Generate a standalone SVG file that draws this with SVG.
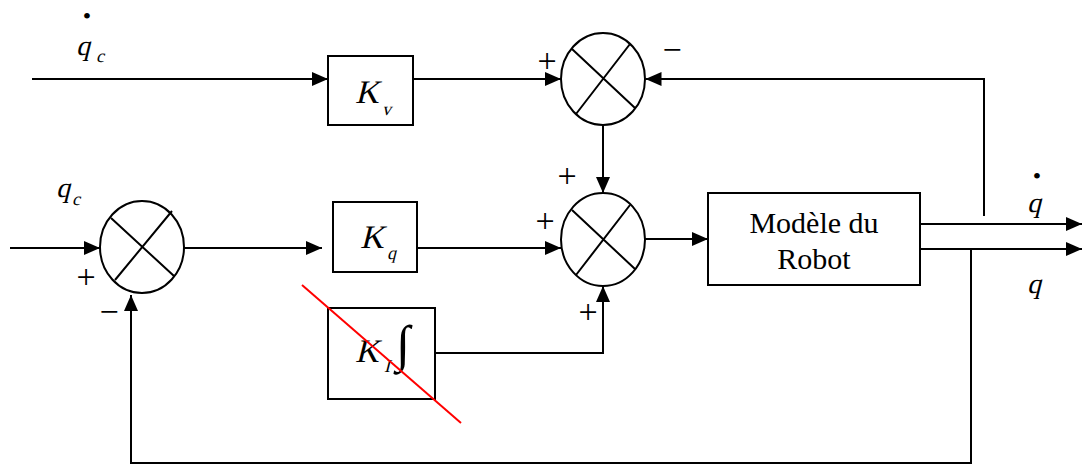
<svg xmlns="http://www.w3.org/2000/svg" width="1082" height="465" viewBox="0 0 1082 465">
<style>
.ln{fill:none;stroke:#000;stroke-width:2}
.bx{fill:#fff;stroke:#000;stroke-width:2}
.rm{font-family:"Liberation Serif","Times New Roman",serif;fill:#000}
.sg{font-family:"Liberation Serif","Times New Roman",serif;fill:#000;font-size:34px;text-anchor:middle}
</style>
<defs>
<marker id="ah" viewBox="0 0 16 14" refX="16" refY="7" markerWidth="16" markerHeight="14" markerUnits="userSpaceOnUse" orient="auto">
<path d="M0,0 L16,7 L0,14 z" fill="#000"/>
</marker>
</defs>
<rect width="1082" height="465" fill="#fff"/>
<g id="connectors" class="ln" marker-end="url(#ah)">
<path d="M32 79 H328"/>
<path d="M413 79 H561"/>
<path d="M984 216 V79 H645.5"/>
<path d="M603 125 V193"/>
<path d="M10 248 H100"/>
<path d="M182 248 H322"/>
<path d="M417 248 H561"/>
<path d="M435 353 H603 V286"/>
<path d="M645 239 H708"/>
<path d="M921 224 H1082"/>
<path d="M921 249 H1082"/>
<path d="M971 249 V463 H131 V295"/>
</g>
<g id="sum_top">
<ellipse class="bx" cx="603" cy="79" rx="42" ry="46"/>
<path class="ln" d="M572 49 L635 108 M630 44 L576 114"/>
<text class="sg" x="547" y="71.5">+</text>
<text class="sg" x="672" y="60.5">−</text>
</g>
<g id="sum_left">
<ellipse class="bx" cx="142" cy="247" rx="42" ry="46"/>
<path class="ln" d="M111 218 L174 276 M172 211 L115 280"/>
<text class="sg" x="86" y="287.5">+</text>
<text class="sg" x="109" y="322.5">−</text>
</g>
<g id="sum_mid">
<ellipse class="bx" cx="603" cy="239.5" rx="42" ry="46.5"/>
<path class="ln" d="M572 210 L635 269 M630 205 L576 275"/>
<text class="sg" x="567" y="186.5">+</text>
<text class="sg" x="545" y="231.5">+</text>
<text class="sg" x="588" y="322.5">+</text>
</g>
<g id="Kv">
<rect class="bx" x="328" y="56" width="85" height="69"/>
<text class="rm" transform="translate(355 103) skewX(-14)" font-size="33">K</text>
<text class="rm" transform="translate(382 115) skewX(-14)" font-size="18">v</text>
</g>
<g id="Kq">
<rect class="bx" x="333" y="202" width="84" height="70"/>
<text class="rm" transform="translate(360 248) skewX(-14)" font-size="33">K</text>
<text class="rm" transform="translate(387 259) skewX(-14)" font-size="18">q</text>
</g>
<g id="KI">
<rect class="bx" x="328" y="308" width="107" height="91"/>
<text class="rm" transform="translate(355 362) skewX(-14)" font-size="33">K</text>
<text class="rm" transform="translate(384 372) skewX(-14)" font-size="18">I</text>
<text class="rm" x="396" y="361" font-size="51">∫</text>
</g>
<g id="robot">
<rect class="bx" x="708" y="193" width="212" height="92"/>
<text class="rm" x="814" y="233" font-size="30" text-anchor="middle">Modèle du</text>
<text class="rm" x="814" y="269" font-size="30" text-anchor="middle">Robot</text>
</g>
<g id="labels">
<text class="rm" x="87" y="24" font-size="24" text-anchor="middle">•</text>
<text class="rm" transform="translate(76 55) skewX(-14)" font-size="28">q</text>
<text class="rm" transform="translate(96 62) skewX(-14)" font-size="18">c</text>
<text class="rm" transform="translate(56 197) skewX(-14)" font-size="28">q</text>
<text class="rm" transform="translate(72 205) skewX(-14)" font-size="18">c</text>
<text class="rm" x="1037" y="184" font-size="24" text-anchor="middle">•</text>
<text class="rm" transform="translate(1027 212) skewX(-14)" font-size="28">q</text>
<text class="rm" transform="translate(1027 293) skewX(-14)" font-size="28">q</text>
</g>
<line id="strike" x1="302" y1="285" x2="461" y2="423" stroke="#f00" stroke-width="2"/>
</svg>
